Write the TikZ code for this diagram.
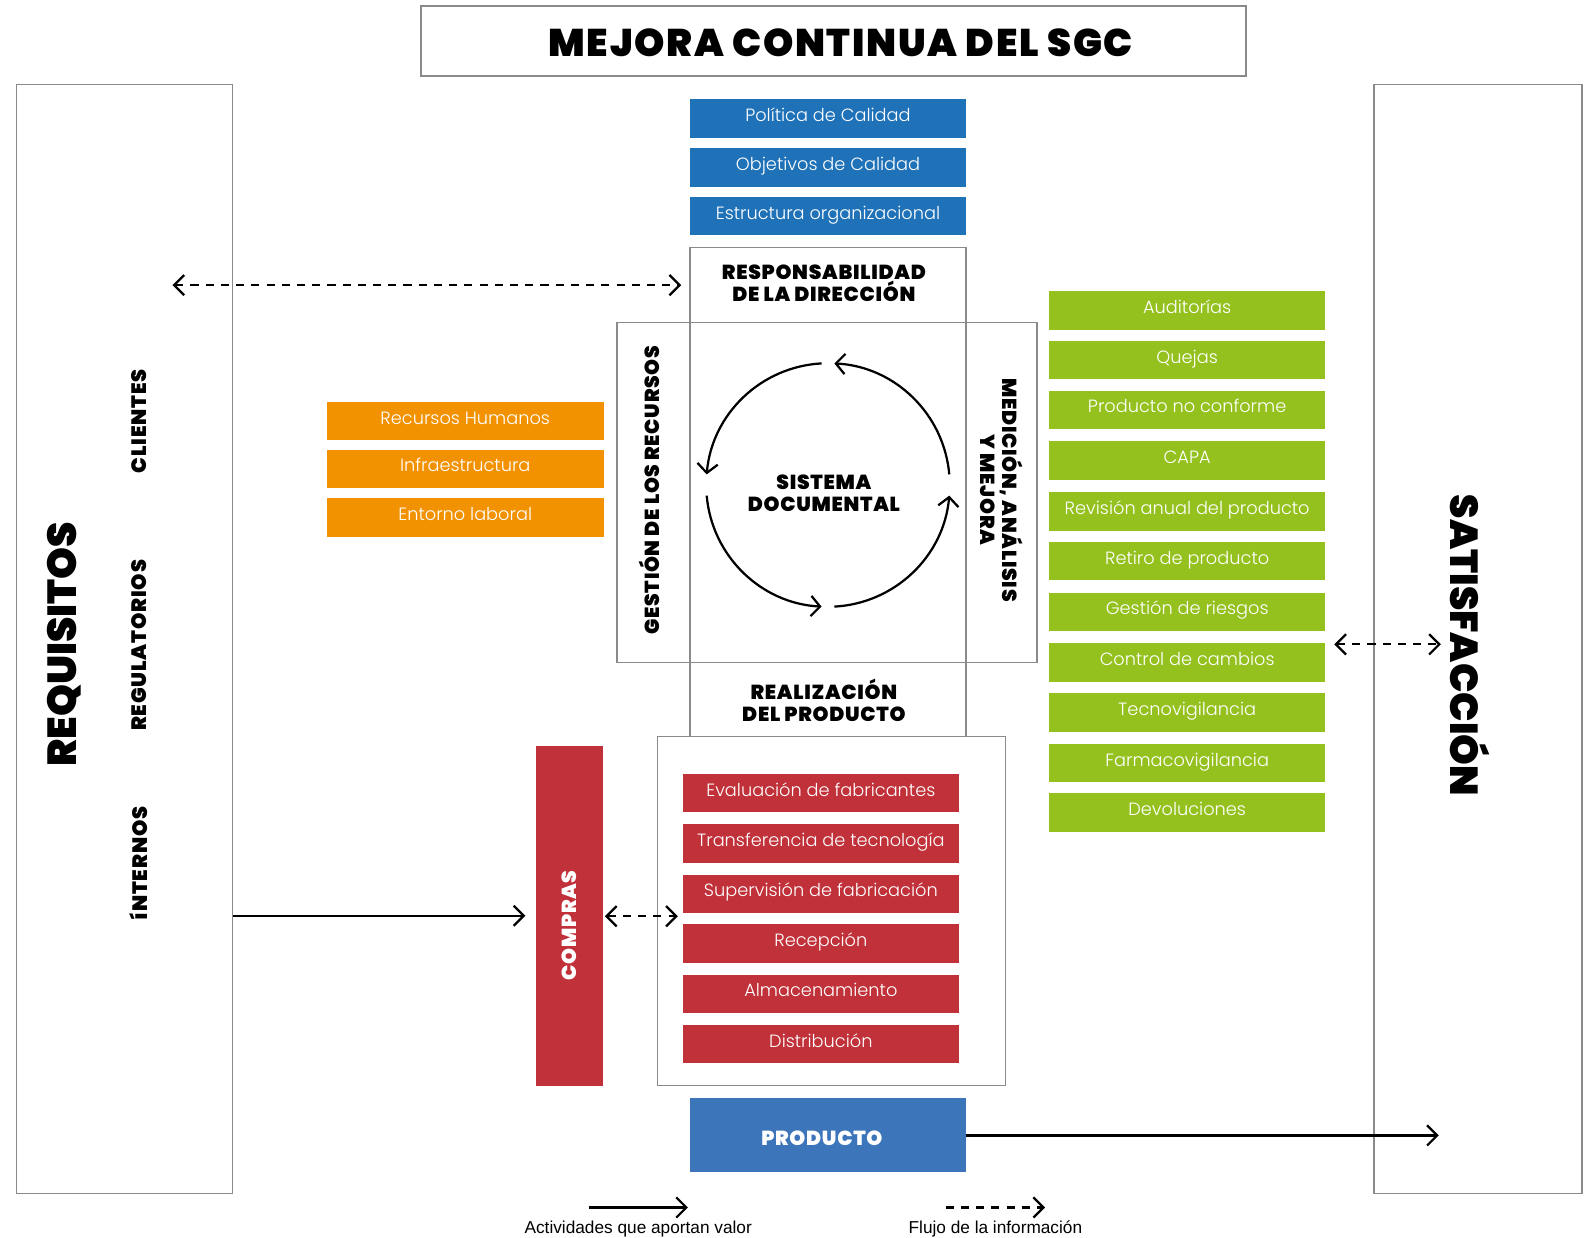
\documentclass[tikz,border=0pt]{standalone}
\usepackage{fontspec}
\setmainfont{Poppins}
\newfontfamily\heavy{Poppins Black}
\newfontfamily\heavyls{Poppins Black}[LetterSpace=3.5]
\newfontfamily\heavysm{Poppins Black}[LetterSpace=4]
\newfontfamily\heavytl{Poppins Black}[LetterSpace=4.5]
\newfontfamily\lightf{Poppins Light}
\newfontfamily\legf{Liberation Sans}
\usetikzlibrary{arrows.meta}
\definecolor{azul}{HTML}{1F71B8}
\definecolor{azuldos}{HTML}{3C75BA}
\definecolor{naranja}{HTML}{F39200}
\definecolor{verde}{HTML}{95C11F}
\definecolor{rojo}{HTML}{C1313A}
\definecolor{borde}{HTML}{8A8A8A}
\begin{document}
\begin{tikzpicture}[x=1pt,y=-1pt,
  frame/.style={draw=borde, line width=1.3pt, inner sep=0pt},
  cbox/.style={fill=#1, text=white, minimum width=272pt, minimum height=38pt, inner sep=0pt,
     text height=13pt, text depth=7pt, font=\lightf\fontsize{17.5}{20}\selectfont},
  hd/.style={font=\heavyls\fontsize{20}{21.5}\selectfont, align=center, inner sep=0pt},
  side/.style={font=\heavysm\fontsize{20.5}{22}\selectfont, inner sep=0pt, rotate=90},
  flow/.style={line width=2.2pt, -{Straight Barb[length=10pt,width=20pt]}},
  info/.style={line width=2.2pt, dash pattern=on 8pt off 7pt,
     {Straight Barb[length=10pt,width=20pt]}-{Straight Barb[length=10pt,width=20pt]}},
  infoone/.style={line width=2.2pt, dash pattern=on 8pt off 7pt, -{Straight Barb[length=10pt,width=20pt]}},
  cyc/.style={line width=2.2pt, -{Straight Barb[length=9pt,width=20pt]}},
  leg/.style={font=\legf\fontsize{17}{20}\selectfont, inner sep=0pt}
]
\useasboundingbox (0,0) rectangle (1568,1220);

% title
\node[frame, minimum width=813pt, minimum height=69pt] (title) at (821.5,40.5) {};
\node[inner sep=0pt, font=\heavytl\fontsize{38}{42}\selectfont] (titlet) at (828.5,42) {MEJORA CONTINUA DEL SGC};

% side frames
\node[frame, minimum width=213pt, minimum height=1093pt] (req) at (122.5,629.5) {};
\node[frame, minimum width=205pt, minimum height=1093pt] (sat) at (1456.5,629.5) {};
\node[inner sep=0pt, rotate=90, font=\heavy\fontsize{40}{44}\selectfont] (reqt) at (63,635) {REQUISITOS};
\node[inner sep=0pt, rotate=-90, font=\heavy\fontsize{38.5}{42}\selectfont] (satt) at (1449,636) {SATISFACCIÓN};
\node[side] (cli) at (137,415) {CLIENTES};
\node[side] (reg) at (137,636) {REGULATORIOS};
\node[side] (int) at (137,851) {íNTERNOS};

% blue boxes
\node[cbox=azul] (b1) at (816,117) {Política de Calidad};
\node[cbox=azul] (b2) at (816,165) {Objetivos de Calidad};
\node[cbox=azul] (b3) at (816,213) {Estructura organizacional};

% central structure
\node[frame, minimum width=272pt, minimum height=74pt] (resp) at (816,281) {};
\node[hd] (respt) at (812,279) {RESPONSABILIDAD\\DE LA DIRECCIÓN};
\node[frame, minimum width=72pt, minimum height=335pt] (gest) at (644,485.5) {};
\node[hd, rotate=90] (gestt) at (640,483) {GESTIÓN DE LOS RECURSOS};
\node[frame, minimum width=272pt, minimum height=335pt] (sd) at (816,485.5) {};
\node[hd] (sdt) at (812,486) {SISTEMA\\DOCUMENTAL};
\node[frame, minimum width=70pt, minimum height=335pt] (med) at (987,485.5) {};
\node[hd, rotate=-90] (medt) at (987,483) {MEDICIÓN, ANÁLISIS\\Y MEJORA};
\node[frame, minimum width=272pt, minimum height=73pt] (real) at (816,689.5) {};
\node[hd] (realt) at (812,690) {REALIZACIÓN\\DEL PRODUCTO};

% cycle
\begin{scope}[shift={(816,478)}]
  \draw[cyc] (-5:120) arc[start angle=-5, end angle=-87, radius=120];
  \draw[cyc] (-93:120) arc[start angle=-93, end angle=-175, radius=120];
  \draw[cyc] (-185:120) arc[start angle=-185, end angle=-267, radius=120];
  \draw[cyc] (-273:120) arc[start angle=-273, end angle=-355, radius=120];
\end{scope}

% orange boxes
\node[cbox=naranja, minimum width=273pt] (o1) at (458.5,415) {Recursos Humanos};
\node[cbox=naranja, minimum width=273pt] (o2) at (458.5,462) {Infraestructura};
\node[cbox=naranja, minimum width=273pt] (o3) at (458.5,510) {Entorno laboral};

% green boxes
\node[cbox=verde] (g1) at (1170,306) {Auditorías};
\node[cbox=verde] (g2) at (1170,355) {Quejas};
\node[cbox=verde] (g3) at (1170,404) {Producto no conforme};
\node[cbox=verde] (g4) at (1170,454) {CAPA};
\node[cbox=verde] (g5) at (1170,504) {Revisión anual del producto};
\node[cbox=verde] (g6) at (1170,553) {Retiro de producto};
\node[cbox=verde] (g7) at (1170,603) {Gestión de riesgos};
\node[cbox=verde] (g8) at (1170,653) {Control de cambios};
\node[cbox=verde] (g9) at (1170,702) {Tecnovigilancia};
\node[cbox=verde] (g10) at (1170,752) {Farmacovigilancia};
\node[cbox=verde] (g11) at (1170,801) {Devoluciones};

% red area
\node[frame, minimum width=343pt, minimum height=344pt] (redc) at (819.5,898) {};
\node[cbox=rojo] (r1) at (809,781.5) {Evaluación de fabricantes};
\node[cbox=rojo] (r2) at (809,831.5) {Transferencia de tecnología};
\node[cbox=rojo] (r3) at (809,881) {Supervisión de fabricación};
\node[cbox=rojo] (r4) at (809,930) {Recepción};
\node[cbox=rojo] (r5) at (809,979.5) {Almacenamiento};
\node[cbox=rojo] (r6) at (809,1029) {Distribución};
\node[fill=rojo, minimum width=66pt, minimum height=335pt, inner sep=0pt] (comp) at (561,902.5) {};
\node[hd, rotate=90, text=white] (compt) at (561,912) {COMPRAS};

% product
\node[fill=azuldos, minimum width=272pt, minimum height=73pt, inner sep=0pt] (prod) at (816,1118.5) {};
\node[hd, text=white] (prodt) at (810,1122) {PRODUCTO};

% connectors
\coordinate (reqA) at (170,281);
\coordinate (satA) at (1420,635);
\coordinate (grA) at (1315,635);
\coordinate (satB) at (1418,1119);
\coordinate (redA) at (668,903);
\draw[info, shorten >=8pt] (reqA) -- (resp.west);
\draw[info] (grA) -- (satA);
\draw[flow, shorten >=10pt] (req.east |- comp.west) -- (comp.west);
\draw[info, shorten <=2pt] (comp.east |- redA) -- (redA);
\draw[flow] (prod.east |- satB) -- (satB);

% legend
\coordinate (la1) at (580,1190);
\coordinate (la2) at (678,1190);
\coordinate (lb1) at (932,1190);
\coordinate (lb2) at (1030,1190);
\draw[flow] (la1) -- (la2);
\draw[infoone] (lb1) -- (lb2);
\node[leg] (lt1) at (629,1211) {Actividades que aportan valor};
\node[leg] (lt2) at (981,1211) {Flujo de la información};
\end{tikzpicture}
\end{document}
